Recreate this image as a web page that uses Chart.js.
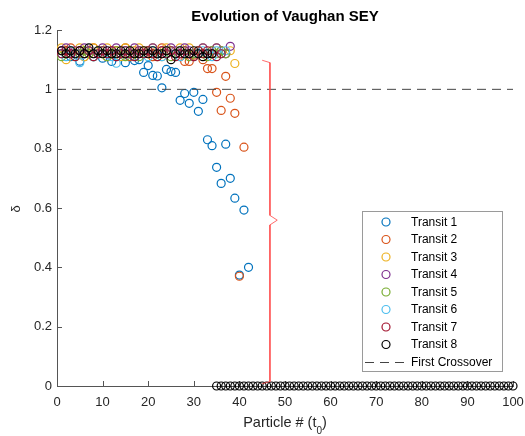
<!DOCTYPE html>
<html>
<head>
<meta charset="utf-8">
<title>Evolution of Vaughan SEY</title>
<script src="https://cdn.jsdelivr.net/npm/chart.js@4.4.1/dist/chart.umd.min.js"></script>
<style>
  html, body { margin: 0; padding: 0; background: #fff; }
  #wrap { width: 525px; height: 436px; }
</style>
</head>
<body>
<div id="wrap"><canvas id="seyChart" width="525" height="436"></canvas></div>
<script>
// SEY (delta) per particle, one list per transit; particle # is index + 1
const transitNames = ['Transit 1', 'Transit 2', 'Transit 3', 'Transit 4',
                      'Transit 5', 'Transit 6', 'Transit 7', 'Transit 8'];
const transitColors = ['#0072BD', '#D95319', '#EDB120', '#7E2F8E',
                       '#77AC30', '#4DBEEE', '#A2142F', '#000000'];

const transit1 = [1.12, 1.13, 1.11, 1.12, 1.095, 1.12, 1.13, 1.11, 1.12, 1.105,
                  1.12, 1.094, 1.11, 1.12, 1.09, 1.11, 1.097, 1.10, 1.057, 1.08,
                  1.047, 1.045, 1.005, 1.067, 1.06, 1.057, 0.963, 0.986, 0.953, 0.99,
                  0.926, 0.966, 0.83, 0.81, 0.737, 0.683, 0.815, 0.70, 0.633, 0.374,
                  0.593, 0.40];
const transit2 = [1.13, 1.12, 1.14, 1.12, 1.13, 1.11, 1.12, 1.14, 1.12, 1.13,
                  1.11, 1.12, 1.13, 1.12, 1.14, 1.11, 1.13, 1.12, 1.12, 1.13,
                  1.11, 1.12, 1.14, 1.12, 1.13, 1.12, 1.11, 1.094, 1.094, 1.115,
                  1.12, 1.10, 1.07, 1.07, 0.99, 0.929, 1.044, 0.97, 0.919, 0.37,
                  0.805];
const transit3 = [1.14, 1.10, 1.13, 1.12, 1.14, 1.11, 1.13, 1.14, 1.12, 1.13,
                  1.14, 1.12, 1.13, 1.11, 1.14, 1.13, 1.12, 1.14, 1.13, 1.12,
                  1.14, 1.13, 1.11, 1.14, 1.13, 1.12, 1.14, 1.13, 1.14, 1.12,
                  1.13, 1.14, 1.12, 1.13, 1.14, 1.13, 1.12, 1.13, 1.087];
const transit4 = [1.13, 1.14, 1.12, 1.13, 1.12, 1.14, 1.13, 1.12, 1.13, 1.14,
                  1.12, 1.13, 1.14, 1.12, 1.13, 1.12, 1.14, 1.13, 1.12, 1.13,
                  1.14, 1.12, 1.13, 1.12, 1.14, 1.13, 1.12, 1.14, 1.13, 1.12,
                  1.13, 1.14, 1.12, 1.13, 1.14, 1.13, 1.12, 1.145];
const transit5 = [1.11, 1.12, 1.13, 1.11, 1.12, 1.13, 1.12, 1.11, 1.13, 1.12,
                  1.11, 1.12, 1.13, 1.12, 1.11, 1.13, 1.12, 1.11, 1.12, 1.13,
                  1.12, 1.11, 1.12, 1.13, 1.11, 1.12, 1.13, 1.12, 1.11, 1.12,
                  1.13, 1.12, 1.11, 1.13, 1.12, 1.13, 1.12];
const transit6 = [1.12, 1.11, 1.13, 1.12, 1.09, 1.12, 1.13, 1.11, 1.12, 1.13,
                  1.12, 1.11, 1.088, 1.12, 1.13, 1.12, 1.11, 1.13, 1.12, 1.11,
                  1.13, 1.12, 1.11, 1.12, 1.13, 1.12, 1.11, 1.13, 1.12, 1.11,
                  1.12, 1.13, 1.12, 1.11, 1.13, 1.12, 1.13];
const transit7 = [1.12, 1.13, 1.12, 1.11, 1.13, 1.12, 1.13, 1.11, 1.12, 1.13,
                  1.12, 1.13, 1.11, 1.12, 1.13, 1.12, 1.11, 1.13, 1.12, 1.13,
                  1.12, 1.11, 1.13, 1.12, 1.13, 1.11, 1.12, 1.13, 1.12, 1.11,
                  1.13, 1.12, 1.13, 1.12, 1.11, 1.12];
const transit8 = [1.13, 1.12, 1.13, 1.12, 1.13, 1.12, 1.14, 1.12, 1.13, 1.12,
                  1.13, 1.12, 1.12, 1.13, 1.12, 1.13, 1.12, 1.12, 1.13, 1.12,
                  1.13, 1.12, 1.12, 1.13, 1.10, 1.12, 1.13, 1.12, 1.12, 1.13,
                  1.12, 1.11, 1.12, 1.12,
                  0, 0, 0, 0, 0, 0, 0, 0, 0, 0, 0, 0, 0, 0, 0, 0, 0, 0, 0, 0, 0, 0,
                  0, 0, 0, 0, 0, 0, 0, 0, 0, 0, 0, 0, 0, 0, 0, 0, 0, 0, 0, 0, 0, 0,
                  0, 0, 0, 0, 0, 0, 0, 0, 0, 0, 0, 0, 0, 0, 0, 0, 0, 0, 0, 0, 0, 0];
const transits = [transit1, transit2, transit3, transit4,
                  transit5, transit6, transit7, transit8];

// first crossover level and the brace marking the drop region
const crossoverLevel = 1;
const crossoverSpan = [0, 100];
const braceX = [45.0, 46.7, 46.7, 48.3, 46.7, 46.7, 45.0];
const braceY = [1.098, 1.09, 0.575, 0.559, 0.543, 0.015, 0.008];

const xTickValues = [0, 10, 20, 30, 40, 50, 60, 70, 80, 90, 100];
const xTickLabels = ['0', '10', '20', '30', '40', '50', '60', '70', '80', '90', '100'];
const yTickValues = [0, 0.2, 0.4, 0.6, 0.8, 1, 1.2];
const yTickLabels = ['0', '0.2', '0.4', '0.6', '0.8', '1', '1.2'];

const FONT = '"Liberation Sans", Arial, Helvetica, sans-serif';
const AXIS_COLOR = '#555555';

const datasets = transits.map((vals, i) => ({
  label: transitNames[i],
  data: vals.map((v, k) => ({ x: k + 1, y: v })),
  borderColor: transitColors[i],
  backgroundColor: 'rgba(0,0,0,0)',
  pointBackgroundColor: 'rgba(0,0,0,0)',
  pointBorderColor: transitColors[i],
  pointBorderWidth: 1.2,
  pointRadius: 4,
  pointHoverRadius: 4,
  showLine: false,
  clip: false,
  order: 9 - i
}));

datasets.push({
  label: 'First Crossover',
  data: crossoverSpan.map(x => ({ x: x, y: crossoverLevel })),
  borderColor: '#444444',
  borderWidth: 1,
  borderDash: [9, 6],
  pointRadius: 0,
  showLine: true,
  order: 1
});

datasets.push({
  label: '',
  data: braceX.map((x, k) => ({ x: x, y: braceY[k] })),
  borderColor: 'rgba(255, 70, 70, 0.8)',
  borderWidth: 1,
  pointRadius: 0,
  showLine: true,
  tension: 0,
  clip: false,
  order: 0
});

// inward tick marks (drawn under the markers)
const innerTicks = {
  id: 'innerTicks',
  beforeDatasetsDraw(chart) {
    const { ctx, chartArea: a, scales: { x, y } } = chart;
    ctx.save();
    ctx.strokeStyle = AXIS_COLOR;
    ctx.lineWidth = 1;
    ctx.beginPath();
    xTickValues.forEach(v => {
      const px = Math.round(x.getPixelForValue(v)) + 0.5;
      ctx.moveTo(px, a.bottom);
      ctx.lineTo(px, a.bottom - 5);
    });
    yTickValues.forEach(v => {
      const py = Math.round(y.getPixelForValue(v)) + 0.5;
      ctx.moveTo(a.left, py);
      ctx.lineTo(a.left + 5, py);
    });
    ctx.stroke();
    ctx.restore();
  }
};

// axis titles (with subscript) and the boxed legend
const decorations = {
  id: 'decorations',
  afterDraw(chart) {
    const { ctx, chartArea: a } = chart;
    ctx.save();

    // x label: Particle # (t0)
    const mainFont = '14.5px ' + FONT;
    const subFont = '10px ' + FONT;
    ctx.fillStyle = '#262626';
    ctx.textBaseline = 'alphabetic';
    ctx.font = mainFont;
    const w1 = ctx.measureText('Particle # (t').width;
    const w3 = ctx.measureText(')').width;
    ctx.font = subFont;
    const w2 = ctx.measureText('0').width;
    let cx = (a.left + a.right) / 2 - (w1 + w2 + w3) / 2;
    ctx.font = mainFont;
    ctx.textAlign = 'left';
    ctx.fillText('Particle # (t', cx, 427);
    ctx.font = subFont;
    ctx.fillText('0', cx + w1, 434);
    ctx.font = mainFont;
    ctx.fillText(')', cx + w1 + w2, 427);

    // y label: delta
    ctx.save();
    ctx.translate(16, (a.top + a.bottom) / 2 + 1);
    ctx.rotate(-Math.PI / 2);
    ctx.font = '13px ' + FONT;
    ctx.textAlign = 'center';
    ctx.textBaseline = 'middle';
    ctx.fillText('\u03b4', 0, 0);
    ctx.restore();

    // legend box
    const box = { left: 362.5, top: 211.5, width: 140, height: 160 };
    const rowH = 17.5, firstRow = 222, markX = 386, textX = 411;
    ctx.fillStyle = '#ffffff';
    ctx.fillRect(box.left, box.top, box.width, box.height);
    ctx.strokeStyle = '#9a9a9a';
    ctx.lineWidth = 1;
    ctx.strokeRect(box.left, box.top, box.width, box.height);

    ctx.font = '12px ' + FONT;
    ctx.textAlign = 'left';
    ctx.textBaseline = 'middle';
    chart.data.datasets.filter(ds => ds.label).forEach((ds, i) => {
      const cy = firstRow + i * rowH;
      if (ds.showLine) {
        ctx.strokeStyle = ds.borderColor;
        ctx.lineWidth = 1;
        ctx.setLineDash(ds.borderDash || []);
        ctx.beginPath();
        ctx.moveTo(365, Math.round(cy) + 0.5);
        ctx.lineTo(408, Math.round(cy) + 0.5);
        ctx.stroke();
        ctx.setLineDash([]);
      } else {
        ctx.strokeStyle = ds.pointBorderColor;
        ctx.lineWidth = ds.pointBorderWidth;
        ctx.beginPath();
        ctx.arc(markX, cy, ds.pointRadius, 0, Math.PI * 2);
        ctx.stroke();
      }
      ctx.fillStyle = '#000000';
      ctx.fillText(ds.label, textX, cy + 0.5);
    });

    ctx.restore();
  }
};

new Chart(document.getElementById('seyChart'), {
  type: 'scatter',
  data: { datasets: datasets },
  options: {
    responsive: false,
    animation: false,
    devicePixelRatio: 1,
    layout: { padding: { left: 0, right: 12, top: 0, bottom: 0 } },
    plugins: {
      legend: { display: false },
      tooltip: { enabled: false },
      title: {
        display: true,
        text: 'Evolution of Vaughan SEY',
        fullSize: false,
        color: '#000000',
        font: { family: FONT, size: 15, weight: 'bold' },
        padding: { top: 8, bottom: 4 }
      }
    },
    scales: {
      x: {
        type: 'linear',
        min: 0,
        max: 100,
        grid: { display: false, drawTicks: false },
        border: { display: true, color: AXIS_COLOR, width: 1 },
        ticks: {
          padding: 9,
          color: '#262626',
          font: { family: FONT, size: 13 },
          callback: (v, i) => xTickLabels[i]
        },
        afterBuildTicks: s => { s.ticks = xTickValues.map(v => ({ value: v })); },
        afterFit: s => { s.height = 50; s.paddingLeft = 0; s.paddingRight = 0; }
      },
      y: {
        type: 'linear',
        min: 0,
        max: 1.2,
        grid: { display: false, drawTicks: false },
        border: { display: true, color: AXIS_COLOR, width: 1 },
        ticks: {
          padding: 5,
          color: '#262626',
          font: { family: FONT, size: 13 },
          callback: (v, i) => yTickLabels[i]
        },
        afterBuildTicks: s => { s.ticks = yTickValues.map(v => ({ value: v })); },
        afterFit: s => { s.width = 57; s.paddingTop = 0; s.paddingBottom = 0; }
      }
    }
  },
  plugins: [innerTicks, decorations]
});
</script>
</body>
</html>
